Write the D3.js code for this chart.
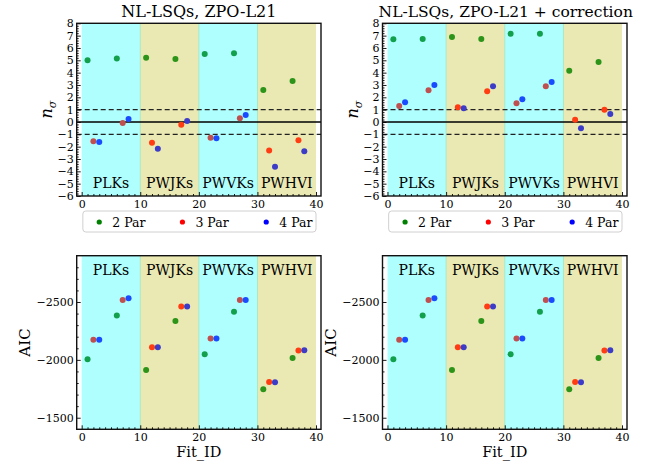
<!DOCTYPE html>
<html><head><meta charset="utf-8">
<script src="https://cdn.jsdelivr.net/npm/d3@7"></script>
<style>body{margin:0;background:#fff}svg{display:block}text{font-family:"DejaVu Serif",serif;fill:#000}</style>
</head><body><svg id="c" width="650" height="464"></svg>
<script>
// ---- data ----
const ids2 = [1, 6, 11, 16, 21, 26, 31, 36];
const ids3 = [2, 7, 12, 17, 22, 27, 32, 37];
const ids4 = [3, 8, 13, 18, 23, 28, 33, 38];
const nsigL2 = [5.0, 5.14, 5.2, 5.1, 5.51, 5.57, 2.6, 3.32];
const nsigL3 = [-1.57, -0.08, -1.68, -0.22, -1.27, 0.3, -2.32, -1.49];
const nsigL4 = [-1.62, 0.24, -2.16, 0.08, -1.32, 0.57, -3.62, -2.38];
const nsigR2 = [6.7, 6.73, 6.89, 6.73, 7.16, 7.16, 4.16, 4.86];
const nsigR3 = [1.3, 2.57, 1.19, 2.49, 1.51, 2.89, 0.19, 1.0];
const nsigR4 = [1.59, 3.0, 1.11, 2.89, 1.84, 3.24, -0.51, 0.65];
const aic2 = [-2006, -2384, -1913, -2335, -2049, -2416, -1746, -2017];
const aic3 = [-2173, -2517, -2110, -2462, -2185, -2517, -1809, -2081];
const aic4 = [-2173, -2532, -2110, -2462, -2185, -2517, -1806, -2084];
const regions = ["PLKs", "PWJKs", "PWVKs", "PWHVI"];
const regionStart = [0, 10, 20, 30];
const titles = ["NL-LSQs, ZPO-L21", "NL-LSQs, ZPO-L21 + correction"];
const legendLabels = ["2 Par", "3 Par", "4 Par"];
const nsigTicks = d3.range(-6, 9);
const aicTicks = [-2500, -2000, -1500];
const xTicks = [0, 10, 20, 30, 40];

// ---- styles ----
const regionFill = ["#b0ffff", "#ebe9b3", "#b0ffff", "#ebe9b3"];
const col2 = ["#12a04c", "#12a04c", "#2c9418", "#2c9418", "#12a04c", "#12a04c", "#2c9418", "#2c9418"];
const col3 = ["#c05050", "#c05050", "#ff3c12", "#ff3c12", "#c05050", "#c05050", "#ff3c12", "#ff3c12"];
const col4 = ["#1a4cff", "#1a4cff", "#3c3cc8", "#3c3cc8", "#1a4cff", "#1a4cff", "#3c3cc8", "#3c3cc8"];
const legendCol = ["#008000", "#ff0000", "#0000ff"];

const svg = d3.select("#c");
const panels = [
  {x0: 76.7, x1: 321, nL: [nsigL2, nsigL3, nsigL4], title: titles[0]},
  {x0: 382.5, x1: 627, nL: [nsigR2, nsigR3, nsigR4], title: titles[1]}
];
const topY = [23.3, 196], botY = [255.7, 429.3];
const minus = d => d3.format("d")(d).replace("-", "\u2212");

panels.forEach((p, pi) => {
  const x = d3.scaleLinear().domain([-0.85, 40.85]).range([p.x0, p.x1]);
  const yT = d3.scaleLinear().domain([-6, 8]).range([topY[1], topY[0]]);
  const yB = d3.scaleLinear().domain([-1400, -2900]).range([botY[1], botY[0]]);

  function drawPanel(y, yr, isTop) {
    const g = svg.append("g");
    regionStart.forEach((s, i) => {
      g.append("rect").attr("x", x(s)).attr("y", yr[0]).attr("width", x(s + 10) - x(s))
        .attr("height", yr[1] - yr[0]).attr("fill", regionFill[i]);
      if (i > 0) g.append("line").attr("x1", x(s)).attr("x2", x(s)).attr("y1", yr[0]).attr("y2", yr[1])
        .attr("stroke", "#a8e8c0").attr("stroke-width", 1);
      g.append("text").attr("x", x(s + 5)).attr("y", isTop ? yr[1] - 8 : yr[0] + 19)
        .attr("text-anchor", "middle").attr("font-size", 14).text(regions[i]);
    });
    if (isTop) {
      [1, -1].forEach(v => g.append("line").attr("x1", p.x0).attr("x2", p.x1)
        .attr("y1", y(v)).attr("y2", y(v)).attr("stroke", "#222").attr("stroke-width", 1.2)
        .attr("stroke-dasharray", "5,3"));
      g.append("line").attr("x1", p.x0).attr("x2", p.x1).attr("y1", y(0)).attr("y2", y(0))
        .attr("stroke", "#000").attr("stroke-width", 1.3);
    }
    const axes = [];
    axes.push(g.append("g").attr("transform", `translate(0,${yr[1]})`)
      .call(d3.axisBottom(x).tickValues(xTicks).tickSize(-4).tickPadding(4).tickFormat(d3.format("d"))));
    axes.push(g.append("g").attr("transform", `translate(0,${yr[1]})`)
      .call(d3.axisBottom(x).tickValues(d3.range(0, 41, 1).filter(v => v % 10)).tickSize(-2).tickFormat("")));
    if (isTop) {
      axes.push(g.append("g").attr("transform", `translate(${p.x0},0)`)
        .call(d3.axisLeft(y).tickValues(nsigTicks).tickSize(-4).tickPadding(3).tickFormat(minus)));
      axes.push(g.append("g").attr("transform", `translate(${p.x0},0)`)
        .call(d3.axisLeft(y).tickValues(d3.range(-30, 40, 1).filter(v => v % 5).map(v => v / 5))
          .tickSize(-2).tickFormat("")));
    } else {
      axes.push(g.append("g").attr("transform", `translate(${p.x0},0)`)
        .call(d3.axisLeft(y).tickValues(aicTicks).tickSize(-4).tickPadding(3).tickFormat(minus)));
      axes.push(g.append("g").attr("transform", `translate(${p.x0},0)`)
        .call(d3.axisLeft(y).tickValues(d3.range(-2800, -1400, 100).filter(v => v % 500)).tickSize(-2).tickFormat("")));
    }
    axes.forEach(a => {
      a.selectAll("text").attr("font-size", 11).attr("font-family", "DejaVu Serif");
      a.selectAll(".domain").remove();
      a.selectAll("line").attr("stroke", "#000").attr("stroke-width", 0.9);
    });
    g.append("rect").attr("x", p.x0).attr("y", yr[0]).attr("width", p.x1 - p.x0)
      .attr("height", yr[1] - yr[0]).attr("fill", "none").attr("stroke", "#111").attr("stroke-width", 1.4);
    return g;
  }

  const gT = drawPanel(yT, topY, true);
  [[ids2, p.nL[0], col2], [ids3, p.nL[1], col3], [ids4, p.nL[2], col4]].forEach(([ids, vals, cols]) => {
    gT.selectAll(null).data(ids).enter().append("circle")
      .attr("cx", d => x(d)).attr("cy", (d, i) => yT(vals[i])).attr("r", 3)
      .attr("fill", (d, i) => cols[i]);
  });
  const gB = drawPanel(yB, botY, false);
  [[ids2, aic2, col2], [ids3, aic3, col3], [ids4, aic4, col4]].forEach(([ids, vals, cols]) => {
    gB.selectAll(null).data(ids).enter().append("circle")
      .attr("cx", d => x(d)).attr("cy", (d, i) => yB(vals[i])).attr("r", 3)
      .attr("fill", (d, i) => cols[i]);
  });

  // title
  svg.append("text").attr("x", (p.x0 + p.x1) / 2 + (pi === 1 ? 1 : 0)).attr("y", 17)
    .attr("text-anchor", "middle").attr("font-size", pi === 1 ? 15.5 : 16).text(p.title);
  // n_sigma label
  const nl = svg.append("text").attr("transform", `translate(${p.x0 - 24.5},${(topY[0] + topY[1]) / 2}) rotate(-90)`)
    .attr("text-anchor", "middle").attr("font-size", 16);
  nl.append("tspan").attr("font-style", "italic").text("n");
  nl.append("tspan").attr("font-style", "italic").attr("font-size", 11).attr("dy", 4).text("σ");
  // AIC label
  svg.append("text").attr("transform", `translate(${p.x0 - 46.5},${(botY[0] + botY[1]) / 2}) rotate(-90)`)
    .attr("text-anchor", "middle").attr("font-size", 15).text("AIC");
  // Fit_ID
  svg.append("text").attr("x", x(20)).attr("y", 456.5).attr("text-anchor", "middle")
    .attr("font-size", 14.5).text("Fit_ID");
  // legend
  const lg = svg.append("g");
  lg.append("rect").attr("x", x(0.2)).attr("y", 211).attr("width", x(40) - x(0.2)).attr("height", 21)
    .attr("rx", 3).attr("fill", "#fff").attr("stroke", "#d0d0d0").attr("stroke-width", 1);
  const lx = [3.0, 17.2, 31.5];
  legendLabels.forEach((t, i) => {
    lg.append("circle").attr("cx", x(lx[i])).attr("cy", 222).attr("r", 2.6).attr("fill", legendCol[i]);
    lg.append("text").attr("x", x(lx[i]) + 13).attr("y", 226.5).attr("font-size", 12.5).text(t);
  });
});
</script></body></html>
